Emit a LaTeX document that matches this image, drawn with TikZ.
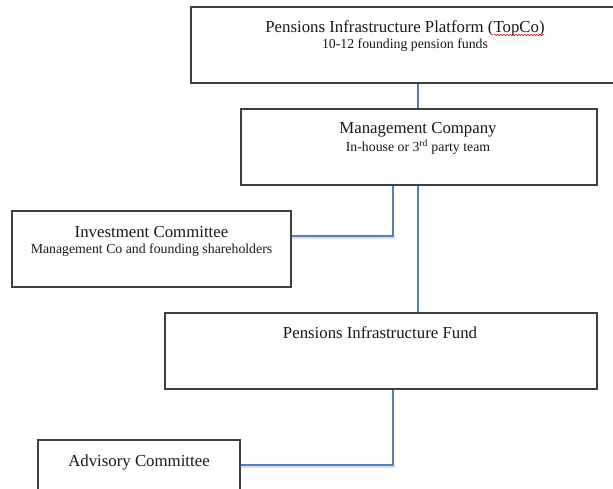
\documentclass[tikz,border=0pt]{standalone}
\usepackage{fontspec}
\setmainfont{Liberation Serif}
\usetikzlibrary{decorations.pathmorphing}
\begin{document}
\begin{tikzpicture}[x=1pt,y=-1pt,
  boxstyle/.style={draw=black!75,line width=1.3pt,fill=white,rectangle,inner sep=0pt},
  titletext/.style={font=\fontsize{16.8}{19}\selectfont,inner sep=0pt,text=black!90},
  subtext/.style={font=\fontsize{13.8}{16}\selectfont,inner sep=0pt,text=black!90},
  link/.style={draw={rgb,255:red,79;green,129;blue,189},line width=2.6pt},
  linkshadow/.style={draw=black!12,line width=3pt}]
\useasboundingbox (0,0) rectangle (613,489);
\begin{scope}
\clip (0,0) rectangle (613,489);
% boxes
\node[boxstyle,minimum width=424pt,minimum height=76pt] (top) at (403,45) {};
\node[boxstyle,minimum width=356pt,minimum height=76pt] (mc) at (419,147) {};
\node[boxstyle,minimum width=279pt,minimum height=76pt] (ic) at (151.5,249) {};
\node[boxstyle,minimum width=432pt,minimum height=76pt] (fund) at (381,351) {};
\node[boxstyle,minimum width=202pt,minimum height=76pt] (adv) at (139,478) {};
% texts
\node[titletext] (toptitle) at (405,28) {Pensions Infrastructure Platform (TopCo)};
\node[subtext] (topsub) at (405,45) {10-12 founding pension funds};
\node[titletext] (mctitle) at (418,130) {Management Company};
\node[subtext] (mcsub) at (418,147) {In-house or 3\textsuperscript{rd} party team};
\node[titletext] (ictitle) at (151.5,232) {Investment Committee};
\node[subtext] (icsub) at (151.5,250) {Management Co and founding shareholders};
\node[titletext] (fundtitle) at (380,333) {Pensions Infrastructure Fund};
\node[titletext] (advtitle) at (139,462) {Advisory Committee};
% spell-check underline
\coordinate (sq1) at (494,35);
\coordinate (sq2) at (544,35);
\draw[red!85!black,line width=0.5pt,decorate,decoration={snake,amplitude=0.8pt,segment length=3pt}] (sq1) -- (sq2);
% connectors
\coordinate (j1) at (393,236);
\coordinate (j2) at (393,465);
\coordinate (v1) at (418,0);
\draw[linkshadow] ([yshift=-1.5pt]ic.east |- j1) -- ([yshift=-1.5pt,xshift=1.5pt]j1);
\draw[linkshadow] ([yshift=-1.5pt]adv.east |- j2) -- ([yshift=-1.5pt,xshift=1.5pt]j2);
\draw[link] (top.south -| v1) -- (mc.north -| v1);
\draw[link] (mc.south -| j1) -- (j1) -- (ic.east |- j1);
\draw[link] (mc.south -| v1) -- (fund.north -| v1);
\draw[link] (fund.south -| j2) -- (j2) -- (adv.east |- j2);
\end{scope}
\end{tikzpicture}
\end{document}
